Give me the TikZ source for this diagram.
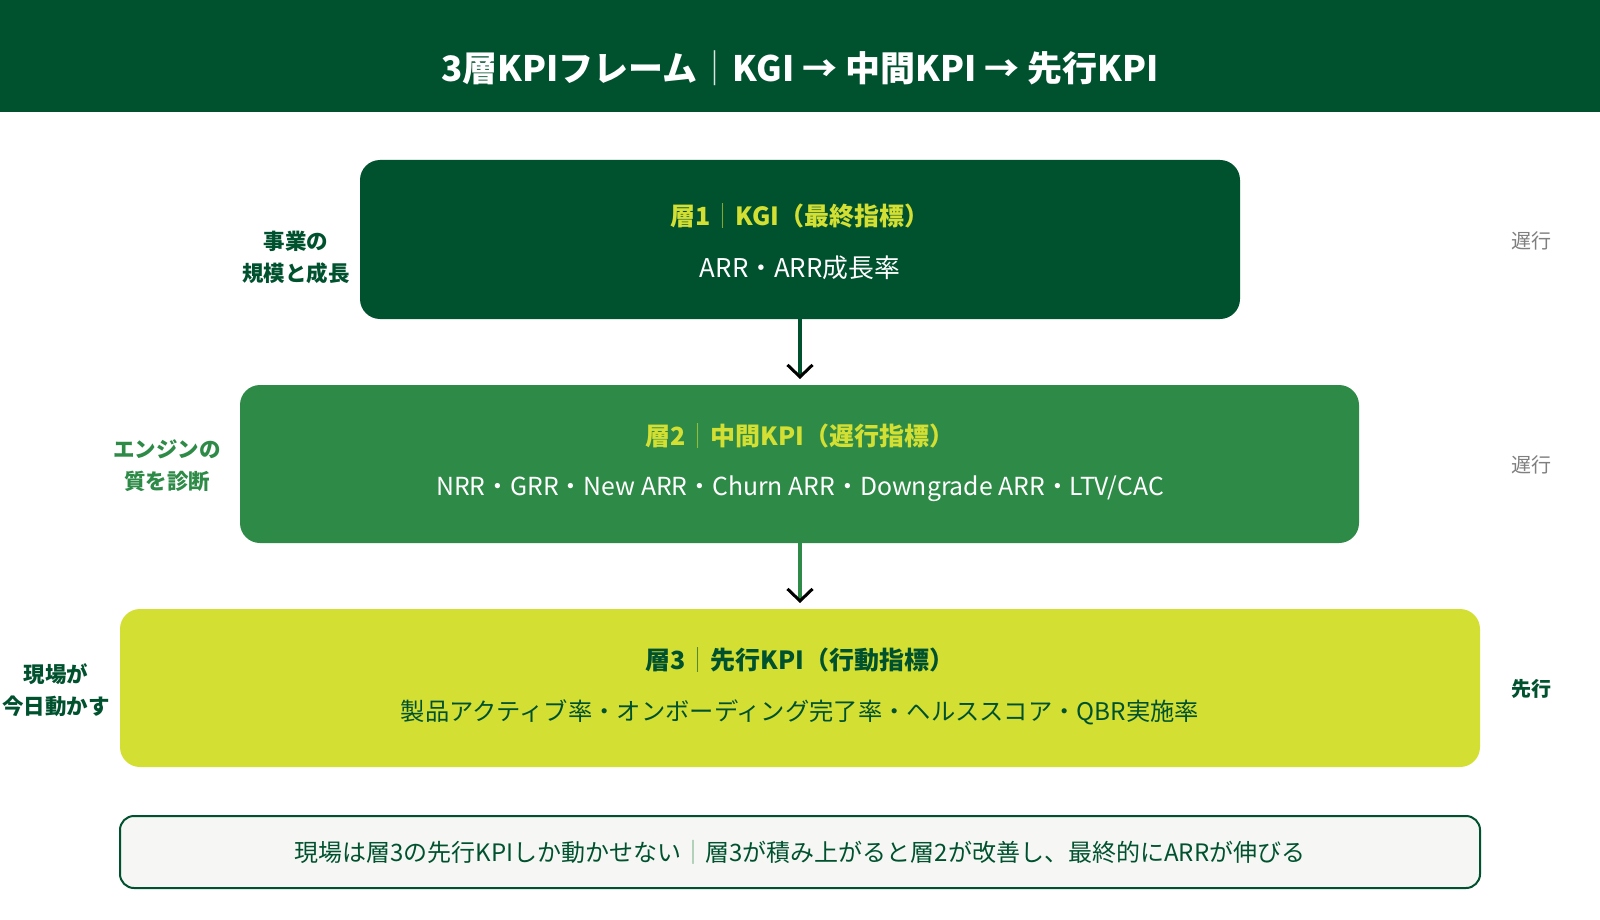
\documentclass[tikz,border=0pt]{standalone}
\usepackage{fontspec}
\setmainfont{Noto Sans CJK JP}
\usetikzlibrary{arrows.meta}
\definecolor{dkgreen}{HTML}{00522F}
\definecolor{mdgreen}{HTML}{2E8B47}
\definecolor{lime}{HTML}{D4DF33}
\definecolor{grayt}{HTML}{7F7F7F}
\definecolor{bgbox}{HTML}{F6F6F4}
\begin{document}
\begin{tikzpicture}[x=1pt,y=-1pt,
  layerbox/.style={rounded corners=20pt, inner sep=0pt},
  sidelbl/.style={font=\fontsize{21.5}{32}\selectfont\bfseries, align=center},
  rightlbl/.style={font=\fontsize{20}{24}\selectfont},
  ttl/.style={font=\fontsize{25}{30}\selectfont\bfseries},
  body/.style={font=\fontsize{24.8}{30}\selectfont},
  flow/.style={line width=3.2pt, shorten >=6pt, -{Straight Barb[color=black,length=12pt,width=25pt,line width=3pt]}}
]
\useasboundingbox (0,0) rectangle (1600,920);
\fill[white] (0,0) rectangle (1600,920);
% header
\fill[dkgreen] (0,0) rectangle (1600,112);
\node[text=white, font=\fontsize{35}{40}\selectfont\bfseries] (title) at (800,68)
  {3層KPIフレーム{\mdseries\color{white!85!dkgreen}｜}KGI → 中間KPI → 先行KPI};
% layer boxes
\fill[dkgreen, layerbox] (360,160) rectangle (1240,319);
\coordinate (b1s) at (800,319);
\fill[mdgreen, layerbox] (240,385) rectangle (1359,543);
\coordinate (b2n) at (800,385);
\coordinate (b2s) at (800,543);
\fill[lime, layerbox] (120,609) rectangle (1480,767);
\coordinate (b3n) at (800,609);
% box texts
\node[ttl, text=lime] (t1) at (800,216) {層1{\mdseries\color{lime!60!dkgreen}｜}KGI（最終指標）};
\node[body, text=white, font=\fontsize{25.8}{30}\selectfont] (s1) at (800,268) {ARR・ARR成長率};
\node[ttl, text=lime] (t2) at (800,436) {層2{\mdseries\color{lime!60!mdgreen}｜}中間KPI（遅行指標）};
\node[body, text=white] (s2) at (800,489) {NRR・GRR・New ARR・Churn ARR・Downgrade ARR・LTV/CAC};
\node[ttl, text=dkgreen] (t3) at (800,660) {層3{\mdseries\color{dkgreen!60!lime}｜}先行KPI（行動指標）};
\node[body, text=dkgreen, font=\fontsize{24.3}{30}\selectfont] (s3) at (800,712) {製品アクティブ率・オンボーディング完了率・ヘルススコア・QBR実施率};
% arrows
\draw[flow, dkgreen] (b1s) -- (b2n);
\draw[flow, mdgreen] (b2s) -- (b3n);
% side labels
\node[sidelbl, text=dkgreen] (l1) at (296,257) {事業の\\規模と成長};
\node[sidelbl, text=mdgreen] (l2) at (167,466) {エンジンの\\質を診断};
\node[sidelbl, text=dkgreen] (l3) at (56,690) {現場が\\今日動かす};
\node[rightlbl, text=grayt] (r1) at (1531,241) {遅行};
\node[rightlbl, text=grayt] (r2) at (1531,465) {遅行};
\node[rightlbl, text=dkgreen, font=\fontsize{20}{24}\selectfont\bfseries] (r3) at (1531,689) {先行};
% bottom note
\draw[dkgreen, fill=bgbox, line width=2pt, rounded corners=14pt] (120,816) rectangle (1480,888);
\node[text=dkgreen, font=\fontsize{24}{28}\selectfont] (note) at (800,852)
  {現場は層3の先行KPIしか動かせない{\color{mdgreen!70!white}｜}層3が積み上がると層2が改善し、最終的にARRが伸びる};
\end{tikzpicture}
\end{document}
